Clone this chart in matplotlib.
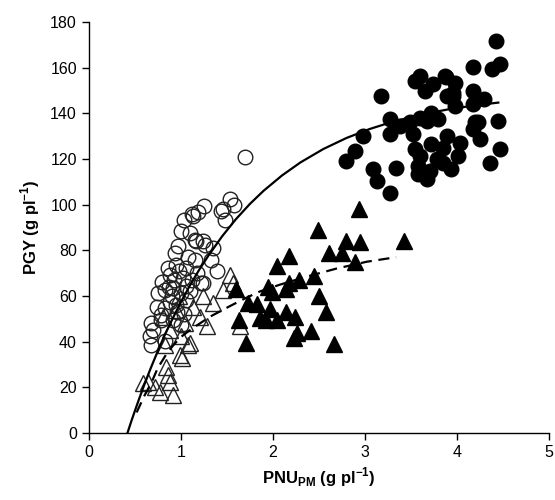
import matplotlib
matplotlib.use("Agg")
import matplotlib.pyplot as plt

# ---- data ----
open_circ_x = [1.70, 1.53, 1.58, 1.46, 1.48, 1.25, 1.19, 1.13, 1.04, 1.00, 1.10, 0.97, 1.15, 1.24,
               1.35, 1.44, 1.12, 1.17, 1.26, 1.33, 1.39, 0.86, 0.95, 1.06, 1.15, 1.22, 1.12, 0.93,
               0.83, 0.75, 0.90, 1.00, 0.74, 0.83, 0.95, 1.06, 0.68, 0.79, 0.92, 1.00, 0.70, 0.66,
               0.83, 1.06, 1.24, 0.68, 0.88, 0.98, 1.08, 0.92, 1.02, 0.96, 0.88, 1.10, 0.80, 1.03,
               0.94, 1.18, 0.78, 0.87]
open_circ_y = [120.7, 102.6, 100.0, 97.9, 93.5, 99.3, 96.7, 95.0, 93.2, 88.4, 87.7, 82.0, 84.7, 84.0,
               81.0, 97.1, 95.7, 84.0, 82.5, 75.9, 70.8, 72.3, 73.7, 72.3, 75.9, 65.7, 67.2, 67.2,
               62.8, 61.3, 59.8, 61.3, 55.4, 54.7, 56.2, 58.4, 48.2, 49.6, 49.6, 47.4, 45.2, 42.3,
               40.1, 64.2, 65.7, 38.6, 69.0, 71.0, 77.0, 63.5, 68.0, 53.0, 57.5, 62.0, 66.0, 52.0,
               79.0, 70.0, 51.5, 64.0]

open_tri_x = [1.53, 1.46, 1.35, 1.24, 1.28, 1.21, 1.13, 1.10, 1.00, 0.88, 0.81, 0.95, 1.57, 1.64,
              0.83, 1.08, 0.99, 1.01, 0.84, 0.86, 0.88, 0.64, 0.77, 0.92, 0.72, 0.59, 1.05, 0.98]
open_tri_y = [69.4, 62.8, 56.9, 59.8, 46.7, 51.0, 55.4, 39.4, 42.3, 45.2, 51.0, 54.0, 65.7, 46.7,
              38.6, 38.6, 34.2, 32.8, 29.1, 25.5, 22.5, 22.5, 18.1, 16.7, 20.3, 21.8, 48.0, 60.0]

fill_tri_x = [2.94, 2.49, 2.79, 2.95, 3.42, 2.61, 2.75, 2.89, 2.18, 2.05, 2.45, 2.28, 2.18, 2.14,
              1.95, 1.99, 1.60, 2.50, 1.73, 1.83, 1.97, 2.58, 2.14, 1.86, 1.93, 2.04, 2.24, 1.63,
              2.26, 2.42, 2.23, 1.71, 2.66]
fill_tri_y = [98.2, 88.8, 84.0, 83.5, 84.0, 78.9, 78.9, 74.8, 77.4, 73.3, 68.6, 66.9, 65.7, 63.1,
              64.0, 61.6, 63.1, 60.1, 56.9, 56.6, 54.3, 52.8, 53.2, 50.3, 49.6, 49.3, 50.6, 49.6,
              44.0, 44.5, 41.6, 39.4, 38.9]

fill_circ_x = [4.43, 4.18, 4.38, 4.47, 3.18, 3.60, 3.54, 3.74, 3.88, 3.98, 3.65, 3.89, 3.96, 3.98,
               4.18, 4.30, 4.18, 4.45, 4.47, 4.36, 4.20, 4.25, 4.18, 4.03, 4.01, 3.89, 3.85, 3.85,
               3.80, 3.72, 3.67, 3.60, 3.49, 3.38, 3.27, 3.27, 3.52, 3.54, 3.60, 3.72, 3.78, 3.71,
               3.58, 3.67, 3.58, 2.98, 2.89, 2.80, 3.09, 3.13, 3.34, 3.27, 3.94, 3.96, 4.23, 3.87]
fill_circ_y = [171.8, 160.5, 159.3, 161.5, 147.6, 156.5, 154.3, 152.8, 155.7, 153.5, 149.8, 147.6,
               149.1, 143.3, 149.8, 146.2, 144.0, 136.7, 124.2, 118.4, 136.0, 128.6, 133.0, 127.2,
               121.4, 130.2, 125.0, 118.4, 137.4, 140.3, 136.7, 138.1, 136.0, 134.5, 137.4, 130.8,
               130.8, 124.2, 121.4, 126.4, 119.8, 114.7, 113.3, 111.1, 117.0, 130.2, 123.5, 119.2,
               115.5, 110.4, 116.2, 105.2, 115.5, 147.6, 136.0, 156.5]

solid_x = [0.42, 0.46, 0.50, 0.55, 0.60, 0.67, 0.75, 0.82, 0.90, 1.00, 1.10, 1.20, 1.30, 1.45,
           1.60, 1.75, 1.90, 2.10, 2.30, 2.55, 2.80, 3.05, 3.30, 3.60, 3.90, 4.20, 4.45]
solid_y = [0.0, 4.9, 9.6, 15.3, 20.8, 28.1, 35.9, 42.4, 49.2, 57.3, 64.7, 71.5, 77.7, 86.2,
           93.7, 100.3, 106.1, 112.8, 118.5, 124.4, 129.2, 133.1, 136.3, 139.3, 141.7, 143.5, 144.7]

dash_x = [0.52, 0.56, 0.60, 0.64, 0.68, 0.75, 0.85, 0.92, 1.00, 1.08, 1.17, 1.32, 1.53, 1.70,
          1.86, 2.08, 2.37, 2.69, 3.02, 3.34]
dash_y = [9.0, 12.5, 16.0, 19.0, 22.0, 28.5, 35.0, 38.5, 42.0, 44.5, 47.0, 51.0, 55.5, 59.0,
          62.0, 65.0, 68.5, 72.0, 75.0, 77.0]

x_ticks = [0, 1, 2, 3, 4, 5]
y_ticks = [0, 20, 40, 60, 80, 100, 120, 140, 160, 180]

# ---- styling ----
plt.rcParams['font.family'] = ['Liberation Sans', 'DejaVu Sans']
plt.rcParams['mathtext.fontset'] = 'custom'
plt.rcParams['mathtext.rm'] = 'Liberation Sans'
plt.rcParams['mathtext.bf'] = 'Liberation Sans:bold'

fig = plt.figure(figsize=(5.55, 5.0), dpi=100)
ax = fig.add_axes([0.160, 0.134, 0.829, 0.822])

ms_c = 10.5
ms_t = 11.5
ax.plot(open_circ_x, open_circ_y, 'o', ms=ms_c, mfc='none', mec='#222222', mew=1.0, zorder=3)
ax.plot(open_tri_x, open_tri_y, '^', ms=ms_t, mfc='none', mec='#222222', mew=1.0, zorder=3)
ax.plot(fill_tri_x, fill_tri_y, '^', ms=ms_t, mfc='black', mec='black', mew=1.0, zorder=3)
ax.plot(fill_circ_x, fill_circ_y, 'o', ms=ms_c, mfc='black', mec='black', mew=1.0, zorder=3)
ax.plot(solid_x, solid_y, '-', color='black', lw=1.6, zorder=4)
ax.plot(dash_x, dash_y, color='black', lw=1.6, linestyle=(0, (5, 3)), zorder=4)

ax.set_xlim(0, 5)
ax.set_ylim(0, 180)
ax.set_xticks(x_ticks)
ax.set_yticks(y_ticks)
ax.tick_params(direction='out', length=5, width=1, labelsize=11.5)
for s in ['top', 'right']:
    ax.spines[s].set_visible(False)
for s in ['left', 'bottom']:
    ax.spines[s].set_linewidth(1)

ax.set_xlabel(r'PNU$_{\mathbf{PM}}$ (g pl$^{\mathbf{-1}}$)', fontsize=12, fontweight='bold', labelpad=4)
ax.set_ylabel(r'PGY (g pl$^{\mathbf{-1}}$)', fontsize=12, fontweight='bold', labelpad=6)

fig.savefig('out.png', dpi=100)
